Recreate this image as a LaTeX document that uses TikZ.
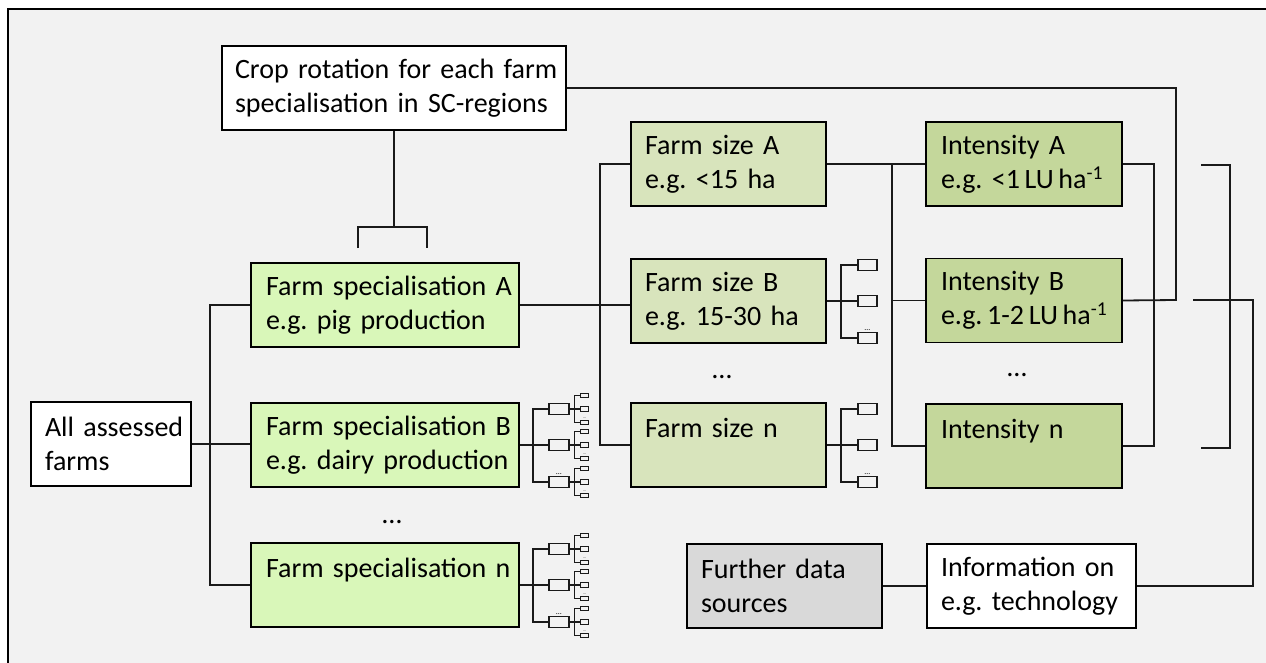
\documentclass[tikz,border=0pt]{standalone}
\usepackage{fontspec}
\setmainfont{Carlito}
\usetikzlibrary{calc}
\definecolor{bg}{HTML}{F2F2F2}
\definecolor{specfill}{HTML}{D9F7B9}
\definecolor{sizefill}{HTML}{D8E4BC}
\definecolor{intfill}{HTML}{C4D79B}
\definecolor{grayfill}{HTML}{D9D9D9}
\definecolor{lin}{HTML}{1A1A1A}
\newcommand\bxfont{\fontsize{28}{34}\selectfont}
\frenchspacing
\begin{document}
\begin{tikzpicture}[x=1pt,y=-1pt,
  base/.style={draw=black, line width=1.9pt, inner ysep=0pt, minimum height=84pt, align=left, font=\bxfont},
  cropbox/.style={base, fill=white, text width=318pt, inner xsep=13pt},
  allbox/.style={base, fill=white, text width=132pt, inner xsep=14pt},
  specbox/.style={base, fill=specfill, text width=238pt, inner xsep=15pt},
  sizebox/.style={base, fill=sizefill, text width=167pt, inner xsep=14pt},
  intbox/.style={base, fill=intfill, text width=166pt, inner xsep=15pt},
  furtherbox/.style={base, fill=grayfill, text width=167pt, inner xsep=14pt},
  infobox/.style={base, fill=white, text width=181pt, inner xsep=14pt},
  dotsnode/.style={inner sep=0pt, font=\bxfont},
  conn/.style={draw=lin, line width=1.8pt},
  thinconn/.style={draw=lin, line width=1.2pt},
  minia/.style={draw=lin, line width=1.7pt, minimum width=19pt, minimum height=11pt, inner sep=0pt},
  minib/.style={draw=lin, line width=1.7pt, minimum width=20pt, minimum height=11pt, inner sep=0pt},
  minic/.style={draw=lin, line width=1.1pt, minimum width=8pt, minimum height=4.5pt, inner sep=0pt},
  tinydots/.style={anchor=south, inner sep=1.2pt, font=\fontsize{8}{8}\selectfont},
  tinierdots/.style={anchor=south, inner sep=0.5pt, font=\fontsize{4}{4}\selectfont},
]
\useasboundingbox (0,0) rectangle (1266,663);
\fill[white] (0,0) rectangle (1266,663);
\fill[bg] (8,9) rectangle (1266,663);
\draw[line width=1.8pt] (8,663) -- (8,9) -- (1266,9);

% boxes
\node[cropbox] (crop) at (394,88) {\mbox{Crop rotation for each farm}\\\mbox{specialisation in SC-regions}};
\node[allbox] (all) at (111,444) {\mbox{All assessed}\\\mbox{farms}};
\node[specbox] (specA) at (385,305) {\mbox{Farm specialisation A}\\\mbox{e.g. pig production}};
\node[specbox] (specB) at (385,445) {\mbox{Farm specialisation B}\\\mbox{e.g. dairy production}};
\node[specbox] (specN) at (385,585) {\mbox{Farm specialisation n}\\\mbox{}};
\node[sizebox] (sizeA) at (728.5,164) {\mbox{Farm size A}\\\mbox{e.g. <15 ha}};
\node[sizebox] (sizeB) at (728.5,301) {\mbox{Farm size B}\\\mbox{e.g. 15-30 ha}};
\node[sizebox] (sizeN) at (728.5,445) {\mbox{Farm size n}\\\mbox{}};
\node[intbox] (intA) at (1024,164) {\mbox{Intensity A}\\\mbox{e.g. <1\,LU\,ha\textsuperscript{-1}}};
\node[intbox] (intB) at (1024,300.5) {\mbox{Intensity B}\\\mbox{e.g.\,1-2\,LU\,ha\textsuperscript{-1}}};
\node[intbox] (intN) at (1024,446) {\mbox{Intensity n}\\\mbox{}};
\node[furtherbox] (further) at (784.5,586) {\mbox{Further data}\\\mbox{sources}};
\node[infobox] (info) at (1031.5,586) {\mbox{Information on}\\\mbox{e.g. technology}};

% ellipses
\node[dotsnode] (dspec) at (392,522) {…};
\node[dotsnode] (dsize) at (722,377) {…};
\node[dotsnode] (dint) at (1017,375) {…};

% crop rotation links
\draw[conn] (crop.south) -- ++(0,97);
\coordinate (brL) at (358,248);
\coordinate (brR) at (427,248);
\draw[conn] (brL) -- ++(0,-21) -| (brR);
\coordinate (cj) at (1176,300);
\draw[conn] (crop.east) -| (cj) -- (intB.east);

% all -> specialisations
\draw[conn] (all.east) -- (all.east -| specB.west);
\draw[conn] (specA.west) -- ++(-40,0) |- (specN.west);

% specA -> sizes
\draw[conn] (specA.east) -- (specA.east -| sizeB.west);
\draw[conn] (sizeA.west) -- ++(-30,0) |- (sizeN.west);

% sizeA -> intensities
\draw[conn] (sizeA.east) -- (intA.west);
\draw[conn] (intA.west) -- ++(-33,0) |- (intN.west);
\draw[conn] (intA.west) ++(-33,0) |- (intB.west);

% intensities right bus
\draw[conn] (intA.east) -- ++(31,0) |- (intN.east);

% right bracket
\coordinate (rb1) at (1201,165);
\coordinate (rb2) at (1201,448);
\draw[conn] (rb1) -- ++(29,0) |- (rb2);
\coordinate (rl) at (1193,300);
\coordinate (rc) at (1253,300);
\draw[conn] (rl) -- (rc) |- (info.east);

% further -> info
\draw[conn] (further.east) -- (info.west);

% mini trees for farm sizes
\foreach \p/\q in {sizeB/sB,sizeN/sN} {
  \draw[conn] (\p.east) -- ++(14,0);
  \foreach \i/\dy in {1/-36,2/0,3/37} {
    \node[minia] (\q\i) at ($(\p.east)+(40.5,\dy)$) {};
    \draw[conn] (\p.east) ++(14,0) |- (\q\i.west);
  }
  \node[tinydots] (\q d) at (\q3.north) {…};
}

% two-level mini trees for specialisations
\foreach \p/\q in {specB/pB,specN/pN} {
  \draw[conn] (\p.east) -- ++(13,0);
  \foreach \i/\dy in {1/-36,2/0,3/37} {
    \node[minib] (\q\i) at ($(\p.east)+(39,\dy)$) {};
    \draw[conn] (\p.east) ++(13,0) |- (\q\i.west);
    \draw[thinconn] (\q\i.east) -- ++(5,0);
    \foreach \j/\dz in {1/-13.5,2/0,3/13.5} {
      \node[minic] (\q\i\j) at ($(\q\i.east)+(15,\dz)$) {};
      \draw[thinconn] (\q\i.east) ++(5,0) |- (\q\i\j.west);
    }
    \node[tinierdots] (\q\i d) at (\q\i3.north) {…};
  }
  \node[tinydots] (\q d) at (\q3.north) {…};
}
\end{tikzpicture}
\end{document}
